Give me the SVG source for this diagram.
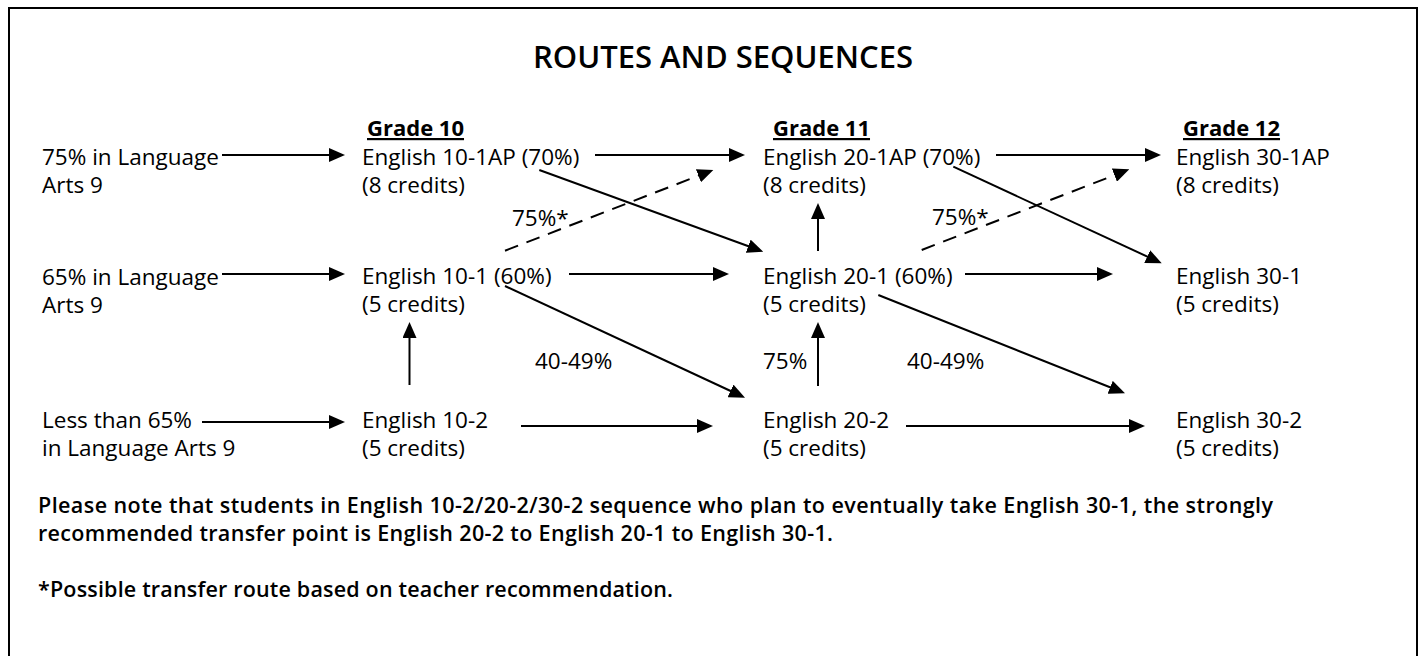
<svg xmlns="http://www.w3.org/2000/svg" width="1421" height="656" viewBox="0 0 1421 656">
<defs>
<marker id="ah" markerUnits="userSpaceOnUse" markerWidth="16" markerHeight="14" refX="12" refY="7" orient="auto">
<path d="M0,0 L16,7 L0,14 z" fill="#000"/>
</marker>
<style>
text{font-family:"Open Sans","Noto Sans","Liberation Sans",sans-serif;fill:#000}
.t{font-size:22.5px}
.g{font-size:22px;font-weight:700;text-decoration:underline}
.title{font-size:31px;font-weight:600;text-anchor:middle}
.note{font-size:21.5px;font-weight:600}
.c{stroke:#000;stroke-width:2;fill:none;marker-end:url(#ah)}
.d{stroke-dasharray:14 9}
</style>
</defs>
<rect x="9" y="8" width="1408" height="700" fill="#fff" stroke="#000" stroke-width="2"/>
<text class="title" x="723" y="68">ROUTES AND SEQUENCES</text>

<g id="grades">
<text class="g" x="367" y="136">Grade 10</text>
<text class="g" x="773" y="136">Grade 11</text>
<text class="g" x="1183" y="136">Grade 12</text>
</g>

<g id="start75"><text class="t" x="42" y="165">75% in Language</text><text class="t" x="42" y="193">Arts 9</text></g>
<g id="start65"><text class="t" x="42" y="285">65% in Language</text><text class="t" x="42" y="313">Arts 9</text></g>
<g id="startLess"><text class="t" x="42" y="428">Less than 65%</text><text class="t" x="42" y="456">in Language Arts 9</text></g>

<g id="e10-1ap"><text class="t" x="362" y="165">English 10-1AP (70%)</text><text class="t" x="362" y="193">(8 credits)</text></g>
<g id="e10-1"><text class="t" x="362" y="284">English 10-1 (60%)</text><text class="t" x="362" y="312">(5 credits)</text></g>
<g id="e10-2"><text class="t" x="362" y="428">English 10-2</text><text class="t" x="362" y="456">(5 credits)</text></g>

<g id="e20-1ap"><text class="t" x="763" y="165">English 20-1AP (70%)</text><text class="t" x="763" y="193">(8 credits)</text></g>
<g id="e20-1"><text class="t" x="763" y="284">English 20-1 (60%)</text><text class="t" x="763" y="312">(5 credits)</text></g>
<g id="e20-2"><text class="t" x="763" y="428">English 20-2</text><text class="t" x="763" y="456">(5 credits)</text></g>

<g id="e30-1ap"><text class="t" x="1176" y="165">English 30-1AP</text><text class="t" x="1176" y="193">(8 credits)</text></g>
<g id="e30-1"><text class="t" x="1176" y="284">English 30-1</text><text class="t" x="1176" y="312">(5 credits)</text></g>
<g id="e30-2"><text class="t" x="1176" y="428">English 30-2</text><text class="t" x="1176" y="456">(5 credits)</text></g>

<g id="connectors">
<line class="c" x1="222" y1="155" x2="341" y2="155"/>
<line class="c" x1="595" y1="155" x2="741" y2="155"/>
<line class="c" x1="996" y1="155" x2="1157" y2="155"/>
<line class="c" x1="222" y1="274" x2="341" y2="274"/>
<line class="c" x1="569" y1="274" x2="725" y2="274"/>
<line class="c" x1="965" y1="274" x2="1109" y2="274"/>
<line class="c" x1="202" y1="422" x2="341" y2="422"/>
<line class="c" x1="521" y1="426" x2="709" y2="426"/>
<line class="c" x1="906" y1="426" x2="1141" y2="426"/>
<line class="c" x1="409.5" y1="385" x2="409.5" y2="326"/>
<line class="c" x1="818" y1="386" x2="818" y2="326"/>
<line class="c" x1="818" y1="251" x2="818" y2="207"/>
<line class="c" x1="539.3" y1="170" x2="759.5" y2="250.3"/>
<line class="c" x1="953.3" y1="166.7" x2="1158.1" y2="261.6"/>
<line class="c" x1="505" y1="286" x2="741.4" y2="396"/>
<line class="c" x1="878.3" y1="295" x2="1121.3" y2="391.8"/>
<line class="c d" x1="505" y1="250.7" x2="709.6" y2="171.4"/>
<line class="c d" x1="921.7" y1="250" x2="1125.6" y2="170.8"/>
</g>

<g id="labels">
<text class="t" x="512" y="226">75%*</text>
<text class="t" x="932" y="225">75%*</text>
<text class="t" x="535" y="369">40-49%</text>
<text class="t" x="763" y="369">75%</text>
<text class="t" x="907" y="369">40-49%</text>
</g>

<g id="notes">
<text class="note" x="38" y="513" textLength="1235" lengthAdjust="spacing">Please note that students in English 10-2/20-2/30-2 sequence who plan to eventually take English 30-1, the strongly</text>
<text class="note" x="38" y="541" textLength="795" lengthAdjust="spacing">recommended transfer point is English 20-2 to English 20-1 to English 30-1.</text>
<text class="note" x="38" y="597" textLength="635" lengthAdjust="spacing">*Possible transfer route based on teacher recommendation.</text>
</g>
</svg>
